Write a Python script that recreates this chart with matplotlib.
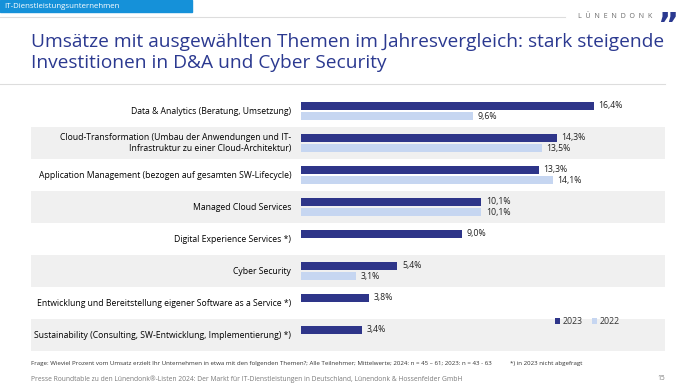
import matplotlib.pyplot as plt
from matplotlib.patches import Rectangle
import numpy as np

plt.rcParams["font.family"] = ["Open Sans", "DejaVu Sans"]

categories = [
    "Data & Analytics (Beratung, Umsetzung)",
    "Cloud-Transformation (Umbau der Anwendungen und IT-\nInfrastruktur zu einer Cloud-Architektur)",
    "Application Management (bezogen auf gesamten SW-Lifecycle)",
    "Managed Cloud Services",
    "Digital Experience Services *)",
    "Cyber Security",
    "Entwicklung und Bereitstellung eigener Software as a Service *)",
    "Sustainability (Consulting, SW-Entwicklung, Implementierung) *)",
]
values_2023 = [16.4, 14.3, 13.3, 10.1, 9.0, 5.4, 3.8, 3.4]
values_2022 = [9.6, 13.5, 14.1, 10.1, np.nan, 3.1, np.nan, np.nan]
series_labels = ["2023", "2022"]

C_2023 = "#2e3589"
C_2022 = "#c6d6f1"
C_BAND = "#f0f0f0"
C_TITLE = "#2b3990"

W, H = 696, 391
fig = plt.figure(figsize=(W / 100, H / 100), dpi=100)
fig.patch.set_facecolor("white")


def px(x, y):
    # pixel coords (top-left origin) -> figure fraction
    return x / W, 1 - y / H


# header stripe
fig.patches.append(Rectangle((0, 1 - 12 / H), 192 / W, 12 / H, transform=fig.transFigure,
                             color="#1591d9", zorder=1))
fig.text(*px(4, 6.5), "IT-Dienstleistungsunternehmen", color="white", fontsize=5.7,
         va="center", ha="left")
fig.lines.append(plt.Line2D([0, 565 / W], [1 - 17 / H] * 2, transform=fig.transFigure,
                            color="#dddddd", lw=0.8))
fig.lines.append(plt.Line2D([0, 665 / W], [1 - 84 / H] * 2, transform=fig.transFigure,
                            color="#dddddd", lw=0.8))
fig.text(*px(578, 17), "L  Ü  N  E  N  D  O  N  K", color="#6b6b6b", fontsize=5.1,
         va="center", ha="left")
fig.text(*px(657, 11), "\u201D", color=C_TITLE, fontsize=23, fontweight="bold",
         va="top", ha="left", family="DejaVu Sans")

fig.text(*px(31, 52.5), "Umsätze mit ausgewählten Themen im Jahresvergleich: stark steigende\n"
         "Investitionen in D&A und Cyber Security", color=C_TITLE, fontsize=13.8,
         va="center", ha="left", linespacing=1.2)

# chart area
ax_l, ax_r, ax_t, ax_b = 31, 665, 95, 351
ax = fig.add_axes([ax_l / W, 1 - ax_b / H, (ax_r - ax_l) / W, (ax_b - ax_t) / H])
scale = 17.87
x0 = 301
ax.set_xlim(-(x0 - ax_l) / scale, (ax_r - x0) / scale)
ax.set_ylim(len(categories) - 0.5, -0.5)
ax.axis("off")

y = np.arange(len(categories))
for i in y:
    if i % 2 == 1:
        ax.axhspan(i - 0.5, i + 0.5, color=C_BAND, zorder=0, lw=0)

off, h = 0.16, 0.26
ax.barh(y - off, values_2023, height=h, color=C_2023, zorder=2, label=series_labels[0])
ax.barh(y + off, np.nan_to_num(values_2022), height=h, color=C_2022, zorder=2,
        label=series_labels[1])

for i in y:
    v = values_2023[i]
    ax.text(v + 0.25, i - off, f"{v:.1f}%".replace(".", ","), fontsize=6.3,
            va="center", ha="left", color="#222222")
    v = values_2022[i]
    if not np.isnan(v):
        ax.text(v + 0.25, i + off, f"{v:.1f}%".replace(".", ","), fontsize=6.3,
                va="center", ha="left", color="#222222")
    ax.text(-0.55, i, categories[i], fontsize=6.2, va="center", ha="right",
            color="#000000", linespacing=1.4)

ax.legend(loc="upper left", bbox_to_anchor=((555 - ax_l) / (ax_r - ax_l), 1 - (317 - ax_t) / (ax_b - ax_t)),
          ncol=2, frameon=False, fontsize=6.3, handlelength=0.6, handleheight=0.6,
          handletextpad=0.3, columnspacing=1.0, borderpad=0, borderaxespad=0,
          labelcolor="#333333")

# footer
fig.text(*px(31, 363), "Frage: Wieviel Prozent vom Umsatz erzielt Ihr Unternehmen in etwa mit den "
         "folgenden Themen?; Alle Teilnehmer; Mittelwerte; 2024: n = 45 – 61; 2023: n = 43 - 63",
         fontsize=4.4, color="#333333", va="center", ha="left")
fig.text(*px(510, 363), "*) in 2023 nicht abgefragt", fontsize=4.4, color="#333333",
         va="center", ha="left")
fig.text(*px(31, 379), "Presse Roundtable zu den Lünendonk®-Listen 2024: Der Markt für "
         "IT-Dienstleistungen in Deutschland, Lünendonk & Hossenfelder GmbH",
         fontsize=4.9, color="#7a7a7a", va="center", ha="left")
fig.text(*px(665, 379), "15", fontsize=4.9, color="#7a7a7a", va="center", ha="right")

fig.savefig("out.png", dpi=100, facecolor="white")
